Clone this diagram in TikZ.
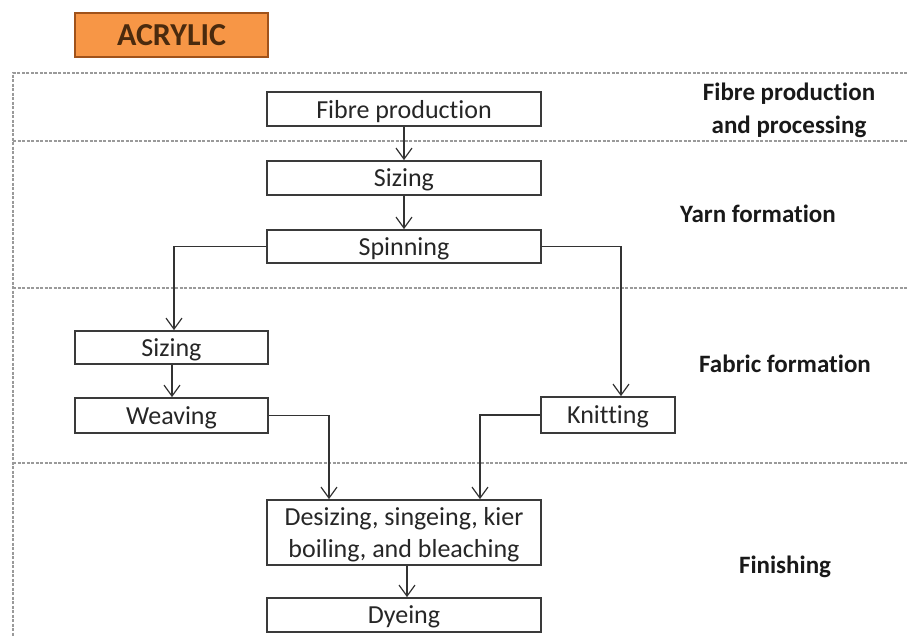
\documentclass[tikz,border=0pt]{standalone}
\usepackage{fontspec}
\setmainfont[Ligatures=NoCommon]{Carlito}
\usetikzlibrary{arrows.meta}
\definecolor{orfill}{HTML}{F79646}
\definecolor{ordraw}{HTML}{A0521A}
\definecolor{ortext}{HTML}{4A2A0E}
\definecolor{boxline}{HTML}{3A3A3A}
\definecolor{frame}{HTML}{9A9A9A}
\tikzset{
  stepbox/.style={draw=boxline, line width=1.8pt, minimum height=34pt, inner sep=0pt, text depth=0pt, font=\fontsize{26}{30}\selectfont, text=black!85},
  conn/.style={draw=black!80, line width=1.4pt, -{Straight Barb[length=11pt,width=16pt,line width=1.2pt]}},
  sect/.style={font=\bfseries\fontsize{25}{33}\selectfont, align=center, text=black!90},
  sep/.style={draw=frame, line width=1.3pt, dash pattern=on 3pt off 1.5pt}
}
\begin{document}
\begin{tikzpicture}[x=1pt,y=-1pt]
\useasboundingbox (0,0) rectangle (907,635);
% title
\node[draw=ordraw, fill=orfill, line width=1.5pt, minimum width=193pt, minimum height=44pt, inner sep=0pt, font=\bfseries\fontsize{32}{34}\selectfont, text=ortext] (title) at (171.5,35) {ACRYLIC};
% frame
\draw[sep] (907,73) -- (13,73) -- (13,640);
\draw[sep] (13,141) -- (907,141);
\draw[sep] (13,288) -- (907,288);
\draw[sep] (13,463) -- (907,463);
% boxes
\node[stepbox, minimum width=274pt] (fibre) at (404,109) {Fibre production};
\node[stepbox, minimum width=274pt] (size1) at (404,178) {Sizing};
\node[stepbox, minimum width=274pt, minimum height=33pt] (spin) at (404,246.5) {Spinning};
\node[stepbox, minimum width=193pt, minimum height=33pt] (size2) at (171.5,347.5) {Sizing};
\node[stepbox, minimum width=193pt, minimum height=35pt] (weave) at (171.5,415.5) {Weaving};
\node[stepbox, minimum width=134pt, minimum height=36pt] (knit) at (608,415) {Knitting};
\node[stepbox, minimum width=274pt, minimum height=65pt, align=center, font=\fontsize{26}{32}\selectfont] (desize) at (404,532.5) {Desizing, singeing, kier\\boiling, and bleaching};
\node[stepbox, minimum width=274pt] (dye) at (404,615) {Dyeing};
% section labels
\node[sect] (l1) at (789,110) {Fibre production\\and processing};
\node[sect] (l2) at (758,214) {Yarn formation};
\node[sect] (l3) at (785,364) {Fabric formation};
\node[sect] (l4) at (785,567) {Finishing};
% connectors
\draw[conn] (fibre) -- (size1);
\draw[conn] (size1) -- (spin);
\draw[conn] (spin.west) -| (size2.north -| 174,0);
\draw[conn] (spin.east) -| (knit.north -| 621,0);
\draw[conn] (size2.south -| 172,0) -- (weave.north -| 172,0);
\draw[conn] (weave.east) -| (desize.north -| 329,0);
\draw[conn] (knit.west) -| (desize.north -| 480,0);
\draw[conn] (desize.south -| 407,0) -- (dye.north -| 407,0);
\end{tikzpicture}
\end{document}
